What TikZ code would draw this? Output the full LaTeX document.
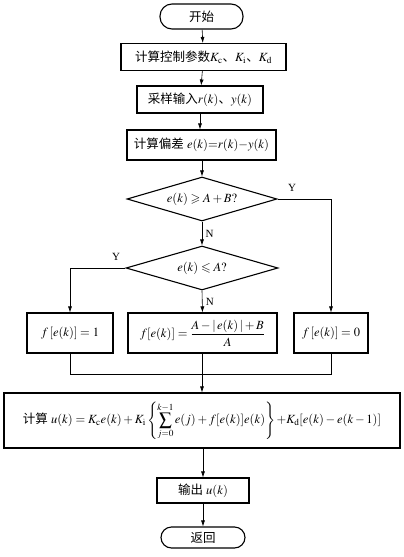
\documentclass[tikz,border=0pt]{standalone}
\usepackage{mathptmx}
\usepackage{amsmath,amssymb}
\usepackage{fontspec}
\setmainfont{Liberation Serif}
\newfontfamily\cjk{Noto Sans CJK SC}
\usetikzlibrary{shapes.geometric,arrows.meta,calc}
\begin{document}
\begin{tikzpicture}[x=1pt,y=-1pt,
  every node/.style={font=\fontsize{12.5}{15}\selectfont},
  box/.style={draw,line width=1.1pt,rectangle,inner sep=0pt,align=center},
  term/.style={box,rounded corners=12pt},
  dec/.style={draw,line width=1.1pt,diamond,inner sep=0pt,aspect=3.4},
  conn/.style={line width=0.6pt},
  arr/.style={conn,-{Latex[length=6pt,width=4pt]}},
  lab/.style={font=\fontsize{11}{13}\selectfont}
]
\useasboundingbox (0,0) rectangle (404,557);
\node[term,minimum width=83pt,minimum height=25pt] (start) at (201.5,16.5) {\cjk 开始};
\node[box,minimum width=165pt,minimum height=27pt] (b2) at (203.5,57) {{\cjk 计算控制参数}$K_{\mathrm{c}}${\cjk 、}$K_{\mathrm{i}}${\cjk 、}$K_{\mathrm{d}}$};
\node[box,minimum width=126pt,minimum height=27pt] (b3) at (200,99.5) {{\cjk 采样输入}$r(k)${\cjk 、}$y(k)$};
\node[box,minimum width=149pt,minimum height=30pt] (b4) at (201.5,145) {{\cjk 计算偏差} $e(k){=}r(k){-}y(k)$};
\node[dec,minimum width=150pt,minimum height=44pt] (d1) at (202,199) {$e(k)\geqslant A+B?$};
\node[dec,minimum width=152pt,minimum height=44pt] (d2) at (202,268) {$e(k)\leqslant A?$};
\node[box,minimum width=86pt,minimum height=40pt] (b1) at (70,333) {$f\,[e(k)]=1$};
\node[box,minimum width=149pt,minimum height=40pt] (bm) at (202.5,333) {$f[e(k)]=\dfrac{A-|\,e(k)\,|+B}{A}$};
\node[box,minimum width=74pt,minimum height=40pt] (b0) at (331,333) {$f\,[e(k)]=0$};
\coordinate (m1) at (70,374);
\coordinate (mc) at (202,374);
\coordinate (m0) at (331,374);
\node[box,minimum width=396pt,minimum height=55pt,font=\fontsize{12.5}{14}\selectfont] (big) at (202,420.5) {{\cjk 计算} $\displaystyle u(k)=K_{\mathrm{c}}e(k)+K_{\mathrm{i}}\left\{\sum_{j=0}^{k-1}e(j)+f[e(k)]e(k)\right\}{+}K_{\mathrm{d}}[e(k)-e(k-1)]$};
\node[box,minimum width=92pt,minimum height=25pt] (out) at (203,490.5) {{\cjk 输出} $u(k)$};
\node[term,rounded corners=10.5pt,minimum width=84pt,minimum height=21pt] (ret) at (203,537.5) {\cjk 返回};
\draw[arr] (start) -- (b2);
\draw[arr] (b2) -- (b3);
\draw[arr] (b3.south) -- (b3.south |- b4.north);
\draw[arr] (b4.south) -- (b4.south -| d1.north) -- (d1.north);
\draw[arr] (d1.south) -- node[right,lab] {N} (d2.north);
\draw[arr] (d1.east) -- (d1.east -| b0.north) -- (b0.north);
\node[lab] (y1) at (292,188) {Y};
\draw[arr] (d2.west) -- (d2.west -| b1.north) -- (b1.north);
\node[lab] (y2) at (116,257) {Y};
\draw[arr] (d2.south) -- node[right,lab] {N} (bm.north);
\draw[conn] (b1.south) -- (m1) -- (m0) -- (b0.south);
\draw[conn] (bm.south) -- (bm.south |- mc);
\draw[arr] (mc) -- (mc |- big.north);
\draw[arr] (big.south -| out.north) -- (out.north);
\draw[arr] (out) -- (ret);
\end{tikzpicture}
\end{document}
